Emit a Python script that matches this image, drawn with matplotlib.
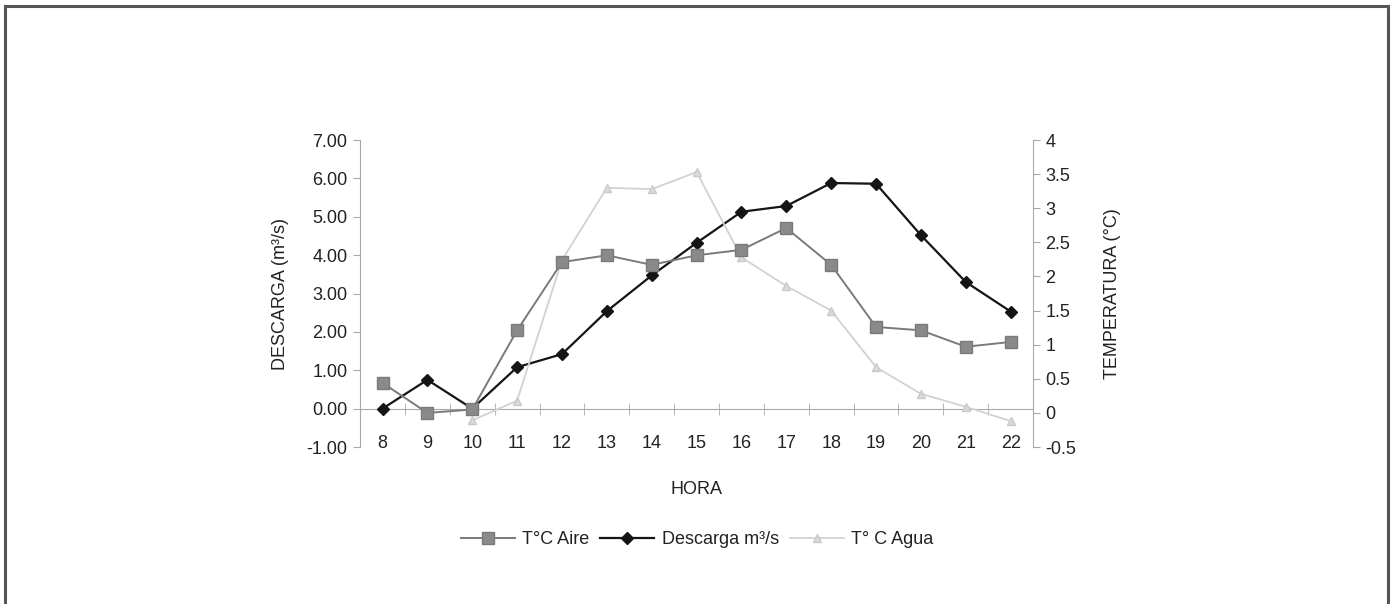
import numpy as np
import matplotlib
matplotlib.use("Agg")
import matplotlib.pyplot as plt
from matplotlib.lines import Line2D
from matplotlib.ticker import FormatStrFormatter, FuncFormatter

plt.rcParams['font.family'] = ['Liberation Sans', 'DejaVu Sans']
plt.rcParams['axes.unicode_minus'] = False

# Datos
hora = [8, 9, 10, 11, 12, 13, 14, 15, 16, 17, 18, 19, 20, 21, 22]
descarga = [0.00, 0.75, 0.00, 1.08, 1.42, 2.54, 3.47, 4.32, 5.13, 5.28,
            5.88, 5.86, 4.52, 3.30, 2.53]
t_aire = [0.44, 0.00, 0.05, 1.21, 2.21, 2.31, 2.17, 2.31, 2.39, 2.71,
          2.17, 1.26, 1.21, 0.97, 1.04]
t_agua = [np.nan, np.nan, -0.11, 0.18, 2.24, 3.30, 3.28, 3.53, 2.28, 1.86,
          1.50, 0.67, 0.28, 0.09, -0.12]

fig = plt.figure(figsize=(13.94, 6.04), dpi=100)
ax = fig.add_axes([0.2583, 0.2599, 0.4828, 0.5083])
ax2 = ax.twinx()

eje_color = '#a8a8a8'
texto = '#222222'
fs = 13

l_desc, = ax.plot(hora, descarga, color='#151515', lw=1.6, marker='D',
                  markersize=6.5, zorder=5, label='Descarga m³/s')
l_aire, = ax2.plot(hora, t_aire, color='#7a7a7a', lw=1.4, marker='s',
                   markersize=8.5, markerfacecolor='#8a8a8a',
                   markeredgecolor='#7a7a7a', zorder=4, label='T°C Aire')
l_agua, = ax2.plot(hora, t_agua, color='#d2d2d2', lw=1.3, marker='^',
                   markersize=6, markerfacecolor='#dadada',
                   markeredgecolor='#cacaca', zorder=3, label='T° C Agua')

# Eje izquierdo (descarga)
ax.set_xlim(7.5, 22.5)
ax.set_ylim(-1, 7)
ax.set_yticks(np.arange(-1, 7.01, 1))
ax.yaxis.set_major_formatter(FormatStrFormatter('%.2f'))
ax.set_xticks(hora)
ax.set_xticks(np.arange(7.5, 22.6, 1), minor=True)
ax.tick_params(axis='x', which='major', length=0, pad=19,
               labelsize=fs, labelcolor=texto)
ax.tick_params(axis='x', which='minor', length=8, direction='inout',
               color=eje_color)
ax.tick_params(axis='y', length=5, color=eje_color, labelsize=fs,
               labelcolor=texto, pad=4)
ax.spines['bottom'].set_position(('data', 0))
ax.spines['bottom'].set_color(eje_color)
ax.spines['left'].set_color(eje_color)
ax.spines['top'].set_visible(False)
ax.spines['right'].set_visible(False)

# Eje derecho (temperatura)
ax2.set_ylim(-0.5, 4)
ax2.set_yticks(np.arange(-0.5, 4.01, 0.5))
ax2.yaxis.set_major_formatter(FuncFormatter(lambda v, p: f'{v:g}'))
ax2.tick_params(axis='y', length=5, color=eje_color, labelsize=fs,
                labelcolor=texto, pad=4)
ax2.spines['right'].set_color(eje_color)
for s in ['top', 'left', 'bottom']:
    ax2.spines[s].set_visible(False)

ax.set_ylabel('DESCARGA (m³/s)', fontsize=fs, color=texto)
ax.yaxis.set_label_coords(-0.106, 0.5)
ax2.set_ylabel('TEMPERATURA (°C)', fontsize=fs, color=texto)
ax2.yaxis.set_label_coords(1.105, 0.5)
ax.set_xlabel('HORA', fontsize=fs, color=texto)
ax.xaxis.set_label_coords(0.5, -0.11)

fig.legend(handles=[l_aire, l_desc, l_agua], loc='center',
           bbox_to_anchor=(0.5, 0.106), ncol=3, frameon=False,
           fontsize=fs, handlelength=3.0, columnspacing=0.6,
           handletextpad=0.4, labelcolor=texto)

# Marco exterior (superior, izquierdo y derecho)
marco = dict(color='#555555', lw=2.2, transform=fig.transFigure)
fig.add_artist(Line2D([5 / 1394, 1388 / 1394], [1 - 6 / 604, 1 - 6 / 604], **marco))
fig.add_artist(Line2D([5 / 1394, 5 / 1394], [0, 1 - 6 / 604], **marco))
fig.add_artist(Line2D([1388 / 1394, 1388 / 1394], [0, 1 - 6 / 604], **marco))

fig.savefig('out.png', dpi=100)
